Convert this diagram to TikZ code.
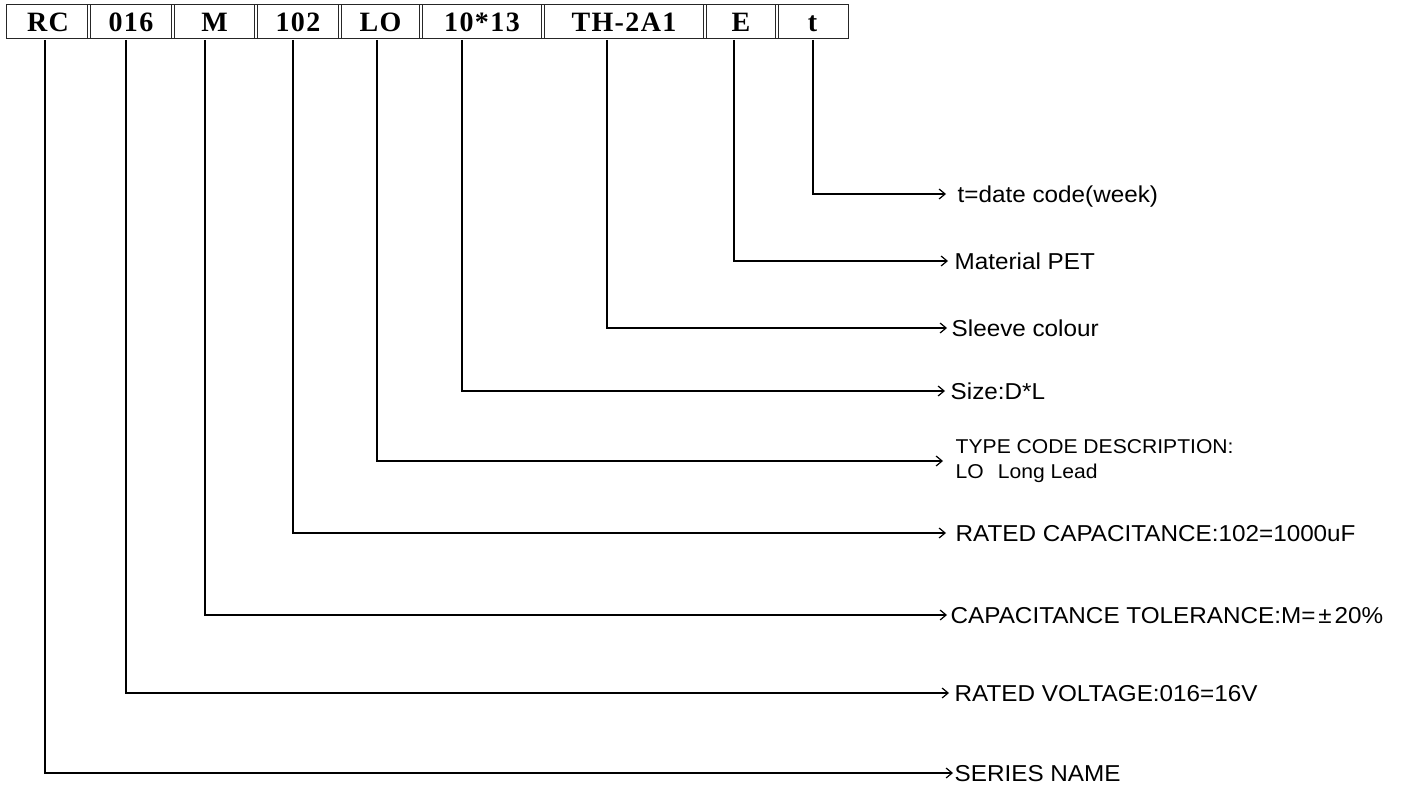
\documentclass[tikz,border=0pt]{standalone}
\usepackage{fontspec}
\setmainfont{Liberation Sans}[FakeStretch=1.055]
\newfontfamily\boxfont{Liberation Serif}[LetterSpace=5]
\usetikzlibrary{arrows.meta}
\begin{document}
\begin{tikzpicture}[x=1pt,y=-1pt,
  cell/.style={inner sep=0pt, minimum height=33pt, text height=21pt, text depth=0pt, font=\boxfont\bfseries\fontsize{28}{28}\selectfont},
  frame/.style={line width=1.1pt, draw=black!85},
  conn/.style={line width=1.8pt, -{Straight Barb[length=6pt,width=10pt,line width=1.2pt]}},
  lab/.style={anchor=west, inner ysep=0pt, font=\fontsize{23}{23}\selectfont, text height=16.5pt, text depth=0pt},
  labs/.style={anchor=west, inner ysep=0pt, align=left, font=\fontsize{20}{25}\selectfont}
]
\useasboundingbox (0,0) rectangle (1407,784);
% code cells
\node[cell, minimum width=82pt]  (b1) at (48,21.5)    {RC};
\node[cell, minimum width=84pt]  (b2) at (131,21.5)   {016};
\node[cell, minimum width=83pt]  (b3) at (214.5,21.5) {M};
\node[cell, minimum width=84pt]  (b4) at (298,21.5)   {102};
\node[cell, minimum width=81pt]  (b5) at (380.5,21.5) {LO};
\node[cell, minimum width=122pt] (b6) at (482,21.5)   {10*13};
\node[cell, minimum width=162pt] (b7) at (624,21.5)   {TH-2A1};
\node[cell, minimum width=72pt]  (b8) at (741,21.5)   {E};
\node[cell, minimum width=71pt]  (b9) at (812.5,21.5) {t};
\draw[frame] (b1.north west) rectangle (b9.south east);
\foreach \a/\b in {b1/b2,b2/b3,b3/b4,b4/b5,b5/b6,b6/b7,b7/b8,b8/b9}{
  \draw[frame] ([xshift=-1.6pt]\a.north east) -- ([xshift=-1.6pt]\a.south east);
  \draw[frame] ([xshift=1.6pt]\b.north west) -- ([xshift=1.6pt]\b.south west);
}
% lead tops
\coordinate (l1) at (45,40);
\coordinate (l2) at (126,40);
\coordinate (l3) at (205,40);
\coordinate (l4) at (293,40);
\coordinate (l5) at (377,40);
\coordinate (l6) at (462,40);
\coordinate (l7) at (607,40);
\coordinate (l8) at (734,40);
\coordinate (l9) at (813,40);
% labels
\node[lab, inner xsep=11.5pt] (L9) at (946,194) {t=date code(week)};
\node[lab, inner xsep=6.5pt]  (L8) at (948,261) {Material PET};
\node[lab, inner xsep=4.5pt]  (L7) at (947,328) {Sleeve colour};
\node[lab, inner xsep=5.5pt]  (L6) at (945,391) {Size:D*L};
\node[labs, inner xsep=12.5pt] (L5) at (943,461) {TYPE CODE DESCRIPTION:\\LO\hspace{14pt}Long Lead};
\node[lab, inner xsep=9.5pt]  (L4) at (946,533) {RATED CAPACITANCE:102=1000uF};
\node[lab, inner xsep=3.5pt]  (L3) at (947,615) {CAPACITANCE TOLERANCE:M=\kern3pt±\kern3pt20\%};
\node[lab, inner xsep=5.5pt]  (L2) at (949,693) {RATED VOLTAGE:016=16V};
\node[lab, inner xsep=1.5pt]  (L1) at (953,773) {SERIES NAME};
% connectors
\foreach \i in {1,...,9}{
  \draw[conn] (l\i) |- (L\i.west);
}
\end{tikzpicture}
\end{document}
